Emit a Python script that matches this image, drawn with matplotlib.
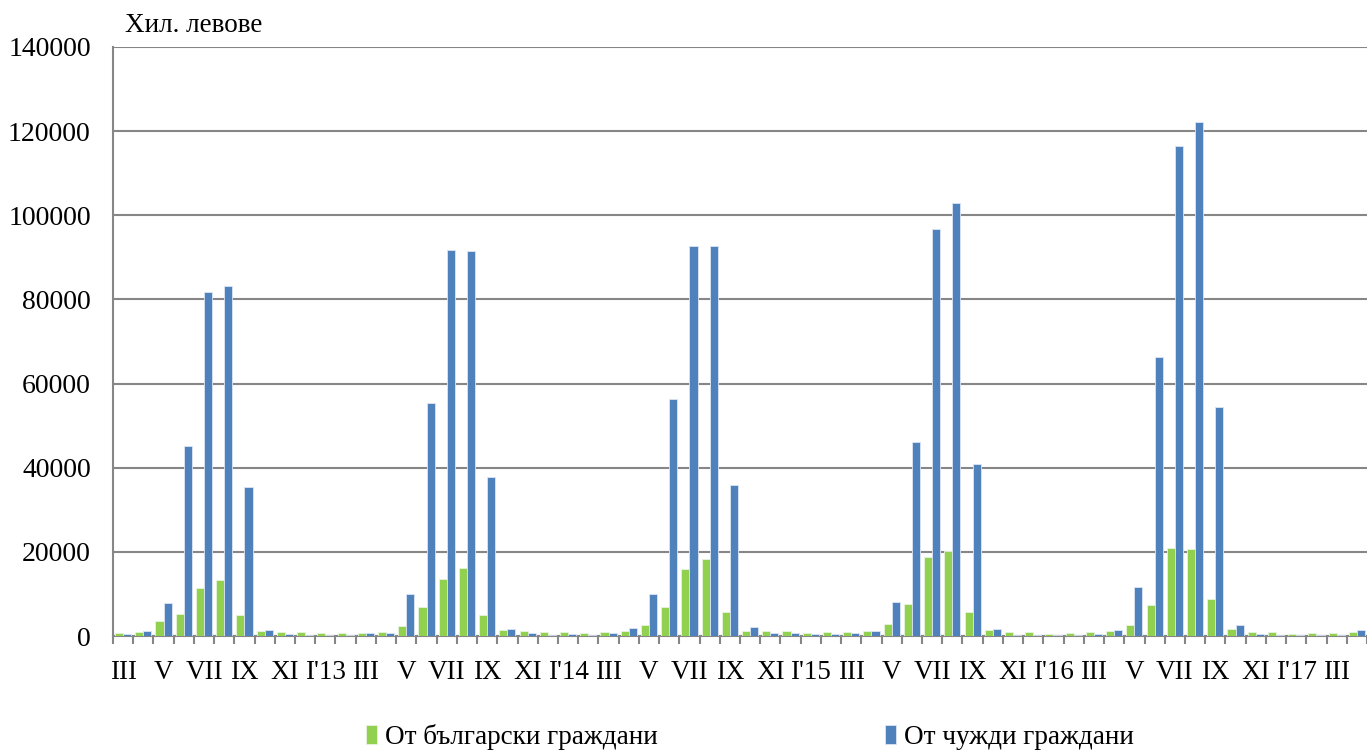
import numpy as np
import matplotlib
matplotlib.use("Agg")
import matplotlib.pyplot as plt

plt.rcParams['font.family'] = ['Liberation Serif', 'DejaVu Serif']

# Months III'12 .. IV'17
months = ['III', 'IV', 'V', 'VI', 'VII', 'VIII', 'IX', 'X', 'XI', 'XII', "I'13", 'II',
          'III', 'IV', 'V', 'VI', 'VII', 'VIII', 'IX', 'X', 'XI', 'XII', "I'14", 'II',
          'III', 'IV', 'V', 'VI', 'VII', 'VIII', 'IX', 'X', 'XI', 'XII', "I'15", 'II',
          'III', 'IV', 'V', 'VI', 'VII', 'VIII', 'IX', 'X', 'XI', 'XII', "I'16", 'II',
          'III', 'IV', 'V', 'VI', 'VII', 'VIII', 'IX', 'X', 'XI', 'XII', "I'17", 'II',
          'III', 'IV']

# Хил. левове
bulgarian = [700, 900, 3500, 5300, 11350, 13200, 4900, 1100, 1000, 1000, 600, 700,
             800, 900, 2300, 6950, 13550, 16150, 5050, 1350, 1100, 900, 900, 800,
             1000, 1300, 2500, 7000, 16000, 18300, 5700, 1300, 1100, 1250, 700, 900,
             1000, 1100, 2950, 7700, 18700, 20250, 5700, 1350, 900, 1000, 550, 800,
             900, 1200, 2700, 7300, 20800, 20700, 8700, 1600, 900, 1050, 500, 800,
             800, 1050]
foreign = [400, 1200, 7900, 45100, 81700, 83300, 35400, 1350, 400, 350, 350, 350,
           600, 700, 10100, 55400, 91700, 91400, 37900, 1600, 600, 350, 500, 350,
           600, 1800, 10000, 56400, 92600, 92600, 36000, 2100, 700, 600, 550, 450,
           600, 1100, 8200, 46200, 96800, 102850, 40800, 1600, 350, 300, 300, 350,
           450, 1500, 11700, 66300, 116400, 122200, 54500, 2700, 400, 200, 200, 250,
           350, 1500]

fig = plt.figure(figsize=(13.67, 7.51), dpi=100)
ax = fig.add_axes([113 / 1367, 115 / 751, 1254 / 1367, 589 / 751])

x = np.arange(len(months))
w = 0.4
ax.bar(x - w / 2, bulgarian, w, color='#92D050', edgecolor='#E8F4DC', linewidth=0.6,
       label='От български граждани', zorder=3)
ax.bar(x + w / 2, foreign, w, color='#4F81BD', edgecolor='#DCE6F2', linewidth=0.6,
       label='От чужди граждани', zorder=3)

ax.set_xlim(-0.5, len(months) - 0.5)
ax.set_ylim(0, 140000)
ax.set_yticks(np.arange(0, 140001, 20000))
ax.yaxis.grid(True, color='#868686', linewidth=1.5, zorder=0)
ax.tick_params(axis='y', length=0, pad=16, labelsize=20)

# boundary ticks and labels every 2 months
ax.set_xticks(np.arange(-0.5, len(months), 1))
ax.set_xticklabels([])
ax.tick_params(axis='x', which='major', length=6, width=1.5, color='#868686', direction='out')
ax.set_xticks(x[::2], minor=True)
ax.set_xticklabels(months[::2], minor=True)
ax.tick_params(axis='x', which='minor', length=0, pad=17, labelsize=19.5)

for s in ['top', 'right']:
    ax.spines[s].set_visible(False)
for s in ['left', 'bottom']:
    ax.spines[s].set_color('#868686')
    ax.spines[s].set_linewidth(1.5)

fig.text(125 / 1367, 1 - 25 / 751, 'Хил. левове', fontsize=19.5, va='center', ha='left')

fig.legend(loc='center', bbox_to_anchor=(750 / 1367, 1 - 737 / 751), ncol=2, frameon=False,
           fontsize=19.5, handlelength=0.4, handleheight=0.75, handletextpad=0.3,
           columnspacing=8.4)

fig.savefig('out.png', dpi=100)
